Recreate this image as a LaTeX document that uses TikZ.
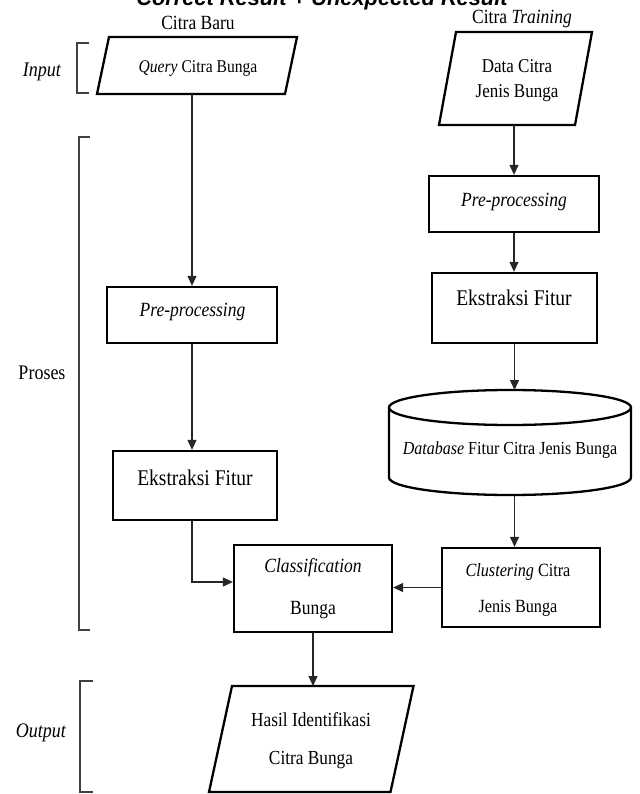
\documentclass[tikz,border=0pt]{standalone}
\usepackage{fontspec}
\usepackage{graphicx}
\setmainfont{Liberation Serif}
\newfontfamily\ttlfont{Liberation Sans}
\usetikzlibrary{arrows.meta}
\newcommand{\vs}[1]{\scalebox{1}[1.15]{#1}}
\newcommand{\fs}[2]{\fontsize{#1}{#2}\selectfont}
\begin{document}
\begin{tikzpicture}[x=1pt,y=-1pt,
  box/.style={draw=black,line width=2.3pt,inner sep=0pt},
  area/.style={inner sep=0pt,outer sep=0pt},
  conn/.style={draw=black!85,line width=1.2pt,-{Triangle[width=9pt,length=10pt]}},
  brk/.style={draw=black!75,line width=1.2pt},
  txt/.style={inner sep=0pt,align=center,text=black}]
\useasboundingbox (0,0) rectangle (639,794);
\clip (0,0) rectangle (639,794);
\fill[white] (0,0) rectangle (639,794);

% cut-off heading
\node[txt,anchor=base,font=\ttlfont\bfseries\itshape\fs{21.8}{24}] (title) at (322,6) {Correct Result + Unexpected Result};

% column headings
\node[txt,font=\fs{17.5}{20}] (baru) at (198,22.5) {\vs{Citra Baru}};
\node[txt,font=\fs{17.5}{20}] (training) at (522,19) {\vs{Citra \textit{Training}}};

% brackets and side labels
\draw[brk] (89,43) -- (77,43) -- (77,93) -- (89,93);
\node[txt,font=\fs{18}{20}] (input) at (42,72) {\vs{\textit{Input}}};
\draw[brk] (90,137) -- (79,137) -- (79,630) -- (90,630);
\node[txt,font=\fs{18}{20}] (proses) at (42,373) {\vs{Proses}};
\draw[brk] (93,681) -- (80,681) -- (80,792) -- (93,792);
\node[txt,font=\fs{18}{20}] (output) at (41,733) {\vs{\textit{Output}}};

% Query (parallelogram)
\node[area,minimum width=188pt,minimum height=57pt] (q) at (197,65.5) {};
\draw[box] ([xshift=6pt]q.north west) -- ([xshift=6pt]q.north east) -- ([xshift=-6pt]q.south east) -- ([xshift=-6pt]q.south west) -- cycle;
\node[txt,font=\fs{15.6}{20}] (qt) at (198,68) {\vs{\textit{Query} Citra Bunga}};

% Data Citra (parallelogram)
\node[area,minimum width=136pt,minimum height=93pt] (data) at (515.5,78.5) {};
\draw[box] ([xshift=8.5pt]data.north west) -- ([xshift=8.5pt]data.north east) -- ([xshift=-8.5pt]data.south east) -- ([xshift=-8.5pt]data.south west) -- cycle;
\node[txt,font=\fs{17}{25}] (datat) at (517,80.5) {\vs{Data Citra}\\\vs{Jenis Bunga}};

% left column
\node[box,minimum width=170pt,minimum height=56pt] (preL) at (192,315) {};
\node[txt,font=\fs{17.5}{20}] (preLt) at (192.5,312) {\vs{\textit{Pre-processing}}};
\node[box,minimum width=164pt,minimum height=69pt] (ekL) at (195,485.5) {};
\node[txt,font=\fs{19.5}{22}] (ekLt) at (195,478) {\vs{Ekstraksi Fitur}};

% right column
\node[box,minimum width=170pt,minimum height=56pt] (preR) at (514,204) {};
\node[txt,font=\fs{17.5}{20}] (preRt) at (514,202) {\vs{\textit{Pre-processing}}};
\node[box,minimum width=165pt,minimum height=70pt] (ekR) at (514.5,308) {};
\node[txt,font=\fs{19.5}{22}] (ekRt) at (514,298) {\vs{Ekstraksi Fitur}};

% database cylinder
\node[area,minimum width=242pt,minimum height=105pt] (db) at (510,442.5) {};
\draw[box] (510,407.5) ellipse [x radius=121pt, y radius=17.5pt];
\draw[box] (389,407.5) -- (389,477.5) arc[start angle=180, end angle=360, x radius=121pt, y radius=17.5pt] -- (631,407.5);
\node[txt,font=\fs{16}{20}] (dbt) at (510,450) {\vs{\textit{Database} Fitur Citra Jenis Bunga}};

% clustering
\node[box,minimum width=158pt,minimum height=79pt] (clu) at (521,587.5) {};
\node[txt,font=\fs{16.2}{36}] (clut) at (518,590) {\vs{\textit{Clustering} Citra}\\\vs{Jenis Bunga}};

% classification
\node[box,minimum width=158pt,minimum height=87pt] (cls) at (313,588.5) {};
\node[txt,font=\fs{17.5}{42}] (clst) at (313,589) {\vs{\textit{Classification}}\\\vs{Bunga}};

% Hasil (parallelogram)
\node[area,minimum width=181.5pt,minimum height=106pt] (hasil) at (311.25,739) {};
\draw[box] ([xshift=11.5pt]hasil.north west) -- ([xshift=11.5pt]hasil.north east) -- ([xshift=-11.5pt]hasil.south east) -- ([xshift=-11.5pt]hasil.south west) -- cycle;
\node[txt,font=\fs{17.3}{38}] (hasilt) at (311,741) {\vs{Hasil Identifikasi}\\\vs{Citra Bunga}};

% connectors
\draw[conn] (q.south -| preL.north) -- (preL.north);
\draw[conn] (preL.south) -- (preL.south |- ekL.north);
\draw[conn] (preL.south |- ekL.south) |- ([yshift=6.5pt]cls.west);
\draw[conn] (clu.west) -- (clu.west -| cls.east);
\draw[conn] (cls.south) -- (cls.south |- hasil.north);
\draw[conn] (data.south -| preR.north) -- (preR.north);
\draw[conn] (preR.south) -- (preR.south |- ekR.north);
\draw[conn] (ekR.south) -- (ekR.south |- db.north);
\draw[conn] (ekR.south |- db.south) -- (ekR.south |- clu.north);
\end{tikzpicture}
\end{document}
